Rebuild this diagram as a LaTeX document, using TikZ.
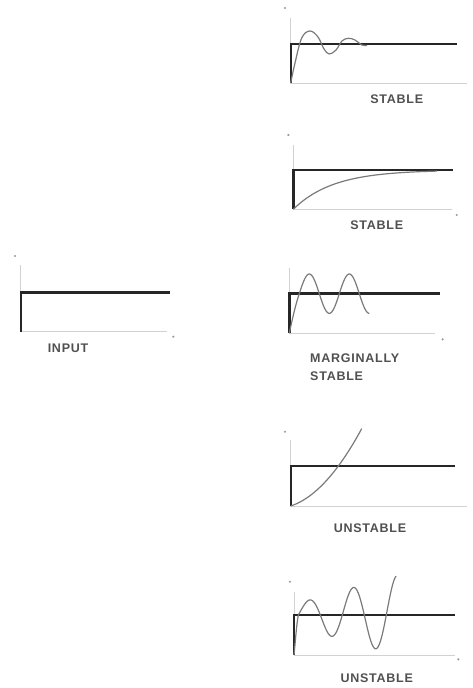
\documentclass[tikz,border=0pt]{standalone}
\usepackage{fontspec}
\newfontfamily\labelfont{Liberation Sans}[LetterSpace=6]
\definecolor{axisgray}{HTML}{D2D2D2}
\definecolor{curvegray}{HTML}{7A7A7A}
\definecolor{textgray}{HTML}{505050}
\begin{document}
\begin{tikzpicture}[x=1pt,y=-1pt,
    axis/.style={axisgray,line width=0.8pt},
    stepline/.style={black!85,line width=2.4pt,line join=miter},
    response/.style={curvegray,line width=1.2pt},
    caption/.style={textgray,inner sep=0pt,font=\labelfont\bfseries\fontsize{12.5}{15}\selectfont},
    markdot/.style={fill=black!40}]
    \useasboundingbox (0,0) rectangle (473,688);

    % axes and unit step of every panel
    \foreach \ox/\oy/\ytop/\lev/\send/\xend in {
        290.7/83/18/44/457/467,
        293.3/209.3/145/170/453/452,
        20.7/331.7/265/292.3/170/167,
        289.3/333.3/268/293.3/440/435,
        290.7/506/440/466/455/466.7,
        294/655/591.7/615/455/455}{
        \draw[axis] (\ox,\ytop) -- (\ox,\oy) -- (\xend,\oy);
        \draw[stepline] (\send,\lev) -- (\ox,\lev) -- (\ox,\oy);
    }

    % small axis marks
    \foreach \dx/\dy in {285/8,288.3/135,15/256,285/431.7,290/581.7,
        456.7/215,173.3/336.7,442.7/339.3,458.3/659.3}{
        \fill[markdot] (\dx,\dy) circle (1.2pt);
    }

    % responses
    \draw[response] plot[smooth,tension=0.6] coordinates {(290.7,83) (295,63) (301.7,38)
        (310,31) (318,37) (324,49) (329.3,54) (336,50) (342,41) (348.3,38.3)
        (355,40) (361.7,45) (367,45.5)};
    \draw[response] plot[domain=293.3:437,samples=60] (\x,{170+39.3*exp(-(\x-293.3)/40)});
    \draw[response] (289.3,333.3) .. controls (292.5,318) and (296,303) .. (299.3,293.7)
        -- plot[domain=299.3:369.3,samples=80] (\x,{293.7-19.7*sin((\x-299.3)*9)});
    \draw[response] plot[domain=290.7:361.7,samples=50]
        (\x,{506-0.33*(\x-290.7)-0.0107*(\x-290.7)^2});
    \draw[response] (294,655) .. controls (295.5,640) and (296.5,625) .. (298.3,615)
        -- plot[domain=298.3:396,samples=100]
        (\x,{615-(15+0.284*(\x-309.3))*sin((\x-298.3)*8.1818)});

    \node[caption] (stableA) at (396.7,99) {STABLE};
    \node[caption] (stableB) at (376.7,225) {STABLE};
    \node[caption] (input) at (68,348) {INPUT};
    \node[caption,anchor=west] (marginal) at (310,358.3) {MARGINALLY};
    \node[caption,anchor=west] (marginalB) at (310,376) {STABLE};
    \node[caption] (unstableA) at (370,528.3) {UNSTABLE};
    \node[caption] (unstableB) at (376.7,678.3) {UNSTABLE};
\end{tikzpicture}
\end{document}
